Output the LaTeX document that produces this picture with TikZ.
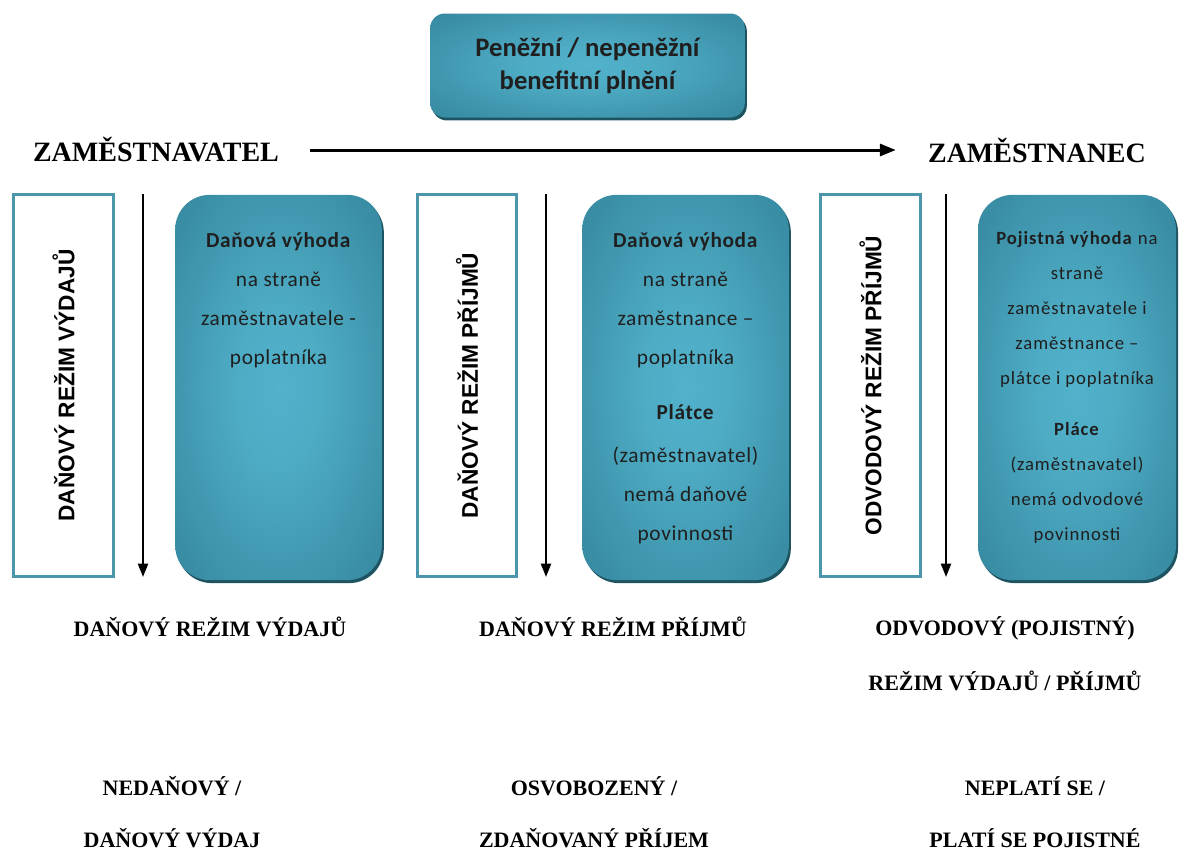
\documentclass[tikz,border=0pt]{standalone}
\usepackage{fontspec}
\setmainfont{Liberation Serif}
\newfontfamily\calibrifont{Carlito}
\newfontfamily\arialfont{Liberation Sans}
\usetikzlibrary{arrows.meta,shadows}

\definecolor{tealin}{RGB}{82,178,203}
\definecolor{tealout}{RGB}{47,127,149}
\definecolor{tealshadow}{RGB}{30,84,98}
\definecolor{tealframe}{RGB}{76,150,172}

\pgfdeclareradialshading{tealglow}{\pgfpoint{0bp}{0bp}}{color(0bp)=(tealin); color(10bp)=(tealin!88!tealout); color(42bp)=(tealout); color(75bp)=(tealout)}

\tikzset{
	benefitbox/.style={shade, shading=tealglow, inner sep=0pt,
		drop shadow={shadow xshift=1.5pt, shadow yshift=-2.2pt, fill=tealshadow, opacity=1}},
	benefittext/.style={anchor=north, align=center, inner sep=0pt, text=black!88,
		font=\calibrifont\fontsize{16}{29.25}\selectfont\addfontfeature{LetterSpace=3}},
	regimebox/.style={draw=tealframe, line width=2.25pt, fill=white, inner sep=0pt,
		minimum width=74.5pt, minimum height=287pt},
	regimelabel/.style={rotate=90, inner sep=0pt, font=\arialfont\bfseries\fontsize{17}{20}\selectfont},
	partyname/.style={inner sep=0pt, font=\bfseries\fontsize{21}{25}\selectfont},
	regimename/.style={align=center, inner sep=0pt, font=\bfseries\fontsize{16.5}{41}\selectfont},
	downarrow/.style={line width=1.5pt, -{Triangle[length=10pt,width=7.5pt]}},
	flowarrow/.style={line width=2.25pt, -{Triangle[length=12pt,width=9pt]}, shorten <=23pt, shorten >=24pt}
}

\begin{document}
\begin{tikzpicture}[x=0.75pt,y=0.75pt,yscale=-1,xscale=1]
	\useasboundingbox (0,0) rectangle (1179,850);

	%Shape: Rounded Rect (top)
	\node[benefitbox, rounded corners=11pt, minimum width=236pt, minimum height=78pt, align=center,
		font=\calibrifont\bfseries\fontsize{20}{25}\selectfont, text=black!88] (benefit) at (587.5,65.5)
		{Peněžní / nepeněžní\\benefitní plnění};

	% Employer -> employee
	\node[partyname] (zel) at (156,150) {ZAMĚSTNAVATEL};
	\node[partyname] (zec) at (1037,150) {ZAMĚSTNANEC};
	\draw[flowarrow] (zel.east) -- (zec.west);

	%Shape: Rectangle [column 1]
	\node[regimebox] (r1) at (63.5,385.5) {};
	\node[regimelabel] (l1) at (r1) {DAŇOVÝ REŽIM VÝDAJŮ};
	%Straight Lines
	\coordinate (a1top) at (143,194);
	\coordinate (a1bot) at (143,577);
	\draw[downarrow] (a1top) -- (a1bot);
	%Shape: Rounded Rect
	\node[benefitbox, rounded corners=26pt, minimum width=155pt, minimum height=289pt] (b1) at (278.5,387.5) {};
	\node[benefittext] (t1) at (278.5,232) {\textbf{Daňová výhoda}\\na straně\\zaměstnavatele -\\poplatníka};

	%Shape: Rectangle [column 2]
	\node[regimebox] (r2) at (467,385.5) {};
	\node[regimelabel] (l2) at (r2) {DAŇOVÝ REŽIM PŘÍJMŮ};
	%Straight Lines
	\coordinate (a2top) at (546,194);
	\coordinate (a2bot) at (546,577);
	\draw[downarrow] (a2top) -- (a2bot);
	%Shape: Rounded Rect
	\node[benefitbox, rounded corners=26pt, minimum width=155pt, minimum height=289pt] (b2) at (685.5,387.5) {};
	\node[benefittext] (t2) at (685.5,232) {\textbf{Daňová výhoda}\\na straně\\zaměstnance –\\poplatníka\\[12pt]
		\textbf{Plátce}\\[3pt](zaměstnavatel)\\nemá daňové\\povinnosti};

	%Shape: Rectangle [column 3]
	\node[regimebox] (r3) at (870.5,385.5) {};
	\node[regimelabel] (l3) at (r3) {ODVODOVÝ REŽIM PŘÍJMŮ};
	%Straight Lines
	\coordinate (a3top) at (946,194);
	\coordinate (a3bot) at (946,577);
	\draw[downarrow] (a3top) -- (a3bot);
	%Shape: Rounded Rect
	\node[benefitbox, rounded corners=26pt, minimum width=148.5pt, minimum height=289pt] (b3) at (1077,387.5) {};
	\node[benefittext, font=\calibrifont\fontsize{14}{26.25}\selectfont\addfontfeature{LetterSpace=5}] (t3) at (1077,231)
		{\textbf{Pojistná výhoda} na\\straně\\zaměstnavatele i\\zaměstnance –\\plátce i poplatníka\\[12pt]
		\textbf{Pláce}\\(zaměstnavatel)\\nemá odvodové\\povinnosti};

	% Regimes
	\node[regimename] (m1) at (210,627) {DAŇOVÝ REŽIM VÝDAJŮ};
	\node[regimename] (m2) at (613,627) {DAŇOVÝ REŽIM PŘÍJMŮ};
	\node[regimename] (m3) at (1005,654) {ODVODOVÝ (POJISTNÝ)\\REŽIM VÝDAJŮ / PŘÍJMŮ};

	% Outcomes
	\node[regimename, font=\bfseries\fontsize{16.5}{39}\selectfont] (o1) at (172,812) {NEDAŇOVÝ /\\DAŇOVÝ VÝDAJ};
	\node[regimename, font=\bfseries\fontsize{16.5}{39}\selectfont] (o2) at (594,812) {OSVOBOZENÝ /\\ZDAŇOVANÝ PŘÍJEM};
	\node[regimename, font=\bfseries\fontsize{16.5}{39}\selectfont] (o3) at (1035,812) {NEPLATÍ SE /\\PLATÍ SE POJISTNÉ};
\end{tikzpicture}
\end{document}
